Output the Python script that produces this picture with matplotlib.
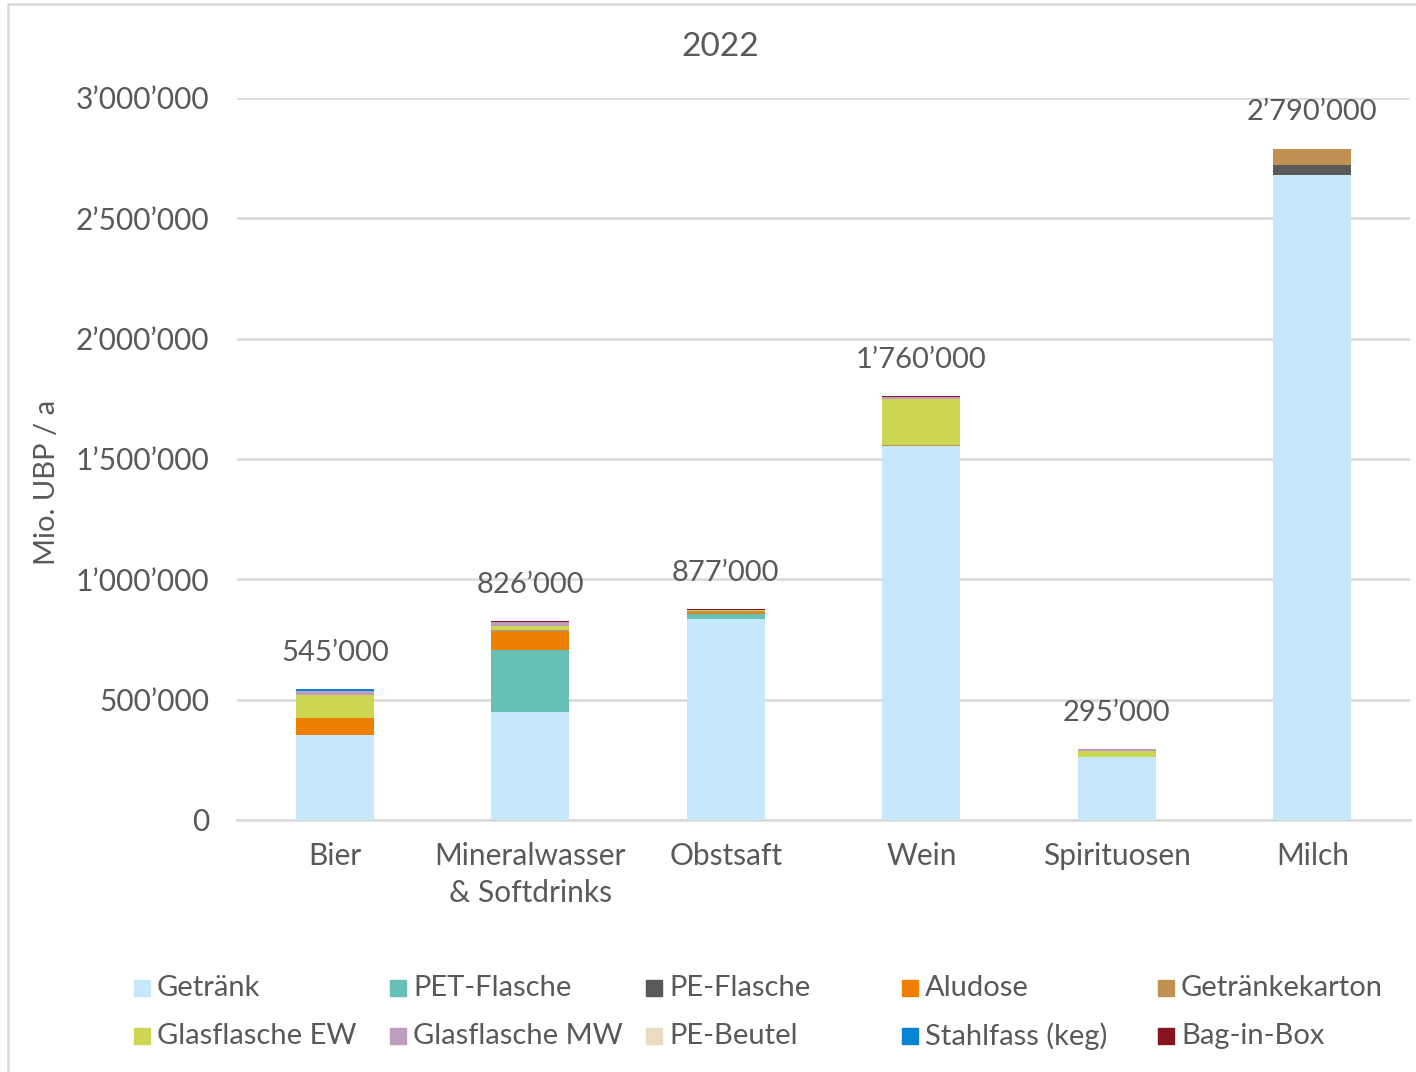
import numpy as np
import matplotlib.pyplot as plt
from matplotlib.patches import Rectangle
from matplotlib.ticker import FuncFormatter

plt.rcParams['font.family'] = ['Lato', 'DejaVu Sans']
grey = '#595959'

# data, Mio. UBP / a
categories = ['Bier', 'Mineralwasser\n& Softdrinks', 'Obstsaft', 'Wein', 'Spirituosen', 'Milch']
series = ['Getränk', 'PET-Flasche', 'PE-Flasche', 'Aludose', 'Getränkekarton',
          'Glasflasche EW', 'Glasflasche MW', 'PE-Beutel', 'Stahlfass (keg)', 'Bag-in-Box']
colors = ['#C5E8FB', '#66C0B4', '#595959', '#EF7F00', '#C09152',
          '#CDD653', '#BD9DBF', '#EADBC3', '#0A84D2', '#86141E']

getraenk   = [355000, 447000, 834000, 1553000, 260000, 2682000]
pet        = [0, 261000, 23000, 0, 0, 0]
pe_flasche = [0, 0, 0, 0, 0, 39000]
aludose    = [70000, 75000, 3000, 0, 0, 0]
karton     = [0, 5000, 8000, 3000, 0, 68000]
glas_ew    = [93000, 17000, 4000, 192000, 28000, 0]
glas_mw    = [17000, 17000, 2000, 8000, 5000, 1000]
pe_beutel  = [0, 0, 0, 0, 0, 0]
stahlfass  = [9000, 0, 0, 0, 0, 0]
bag_in_box = [0, 4000, 3000, 4000, 2000, 0]
totals     = [545000, 826000, 877000, 1760000, 295000, 2790000]

values = [getraenk, pet, pe_flasche, aludose, karton,
          glas_ew, glas_mw, pe_beutel, stahlfass, bag_in_box]


def swiss(v, pos=None):
    return f'{int(v):,}'.replace(',', '\u2019')


fig = plt.figure(figsize=(14.16, 10.72), dpi=100)
ax = fig.add_axes([0.1674, 0.2351, 0.8284, 0.6735])

x = np.arange(len(categories))
bottom = np.zeros(len(categories))
for name, vals, c in zip(series, values, colors):
    ax.bar(x, vals, 0.4, bottom=bottom, color=c, label=name, zorder=3)
    bottom += np.array(vals)

for xi, top, t in zip(x, bottom, totals):
    ax.annotate(swiss(t), (xi, top), xytext=(0, 26), textcoords='offset points',
                ha='center', va='center', fontsize=21, color=grey)

ax.set_xlim(-0.5, len(categories) - 0.5)
ax.set_ylim(0, 3000000)
ax.set_yticks(np.arange(0, 3000001, 500000))
ax.yaxis.set_major_formatter(FuncFormatter(swiss))
ax.set_xticks(x)
ax.set_xticklabels(categories, linespacing=1.4)
ax.tick_params(axis='both', length=0, labelsize=21.5, labelcolor=grey)
ax.tick_params(axis='y', pad=20)
ax.tick_params(axis='x', pad=16)
ax.grid(axis='y', color='#D9D9D9', lw=1.8, zorder=0)
for s in ['top', 'right', 'left']:
    ax.spines[s].set_visible(False)
ax.spines['bottom'].set_color('#D9D9D9')
ax.spines['bottom'].set_linewidth(1.8)

ax.set_ylabel('Mio. UBP / a', fontsize=21, color=grey)
ax.yaxis.set_label_coords(-0.151, 0.468)
fig.text(720 / 1416, 1 - 47 / 1072, '2022', ha='center', va='center', fontsize=24, color=grey)

# legend, laid out like the Excel legend (fixed column pitch)
W, H = 1416, 1072
for i, (name, c) in enumerate(zip(series, colors)):
    col, row = i % 5, i // 5
    px = 134 + col * 256
    py = 988 + row * 48
    fig.patches.append(Rectangle((px / W, 1 - (py + 8) / H), 16 / W, 16 / H,
                                 transform=fig.transFigure, color=c))
    fig.text((px + 23) / W, 1 - py / H, name, ha='left', va='center',
             fontsize=21, color=grey)

fig.patches.append(Rectangle((8 / W, -0.01), 1.0, 1 - 4 / H + 0.01, transform=fig.transFigure,
                             fill=False, edgecolor='#D9D9D9', lw=1.8))

fig.savefig('out.png', dpi=100)
